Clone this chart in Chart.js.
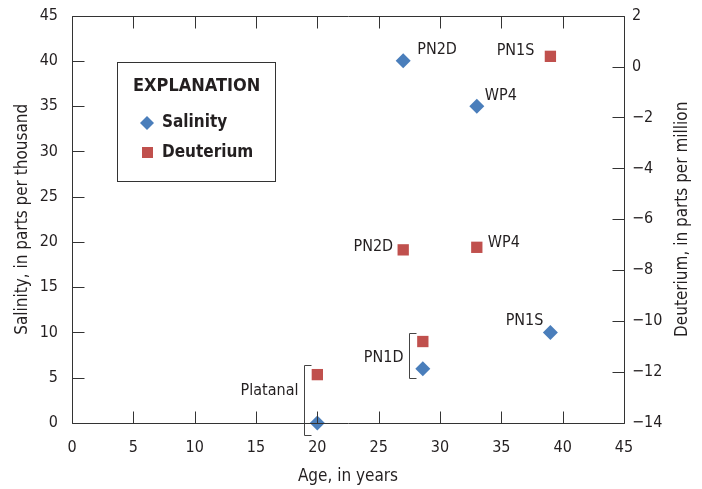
<!DOCTYPE html>
<html>
<head>
<meta charset="utf-8">
<script src="https://cdn.jsdelivr.net/npm/chart.js@4.4.1/dist/chart.umd.min.js"></script>
<style>
  html, body { margin: 0; padding: 0; background: #fff; }
  #wrap { width: 702px; height: 489px; }
</style>
</head>
<body>
<div id="wrap"><canvas id="chart"></canvas></div>
<script>
// values
const sites = ['Platanal', 'PN2D', 'PN1D', 'WP4', 'PN1S'];
const ages = [20, 27, 28.6, 33, 39];
const salinity = [0, 40, 6, 35, 10];
const deuterium = [-12.1, -7.2, -10.8, -7.1, 0.4];
const ageTicks = [0, 5, 10, 15, 20, 25, 30, 35, 40, 45];
const salinityTicks = [0, 5, 10, 15, 20, 25, 30, 35, 40, 45];
const deuteriumTicks = [-14, -12, -10, -8, -6, -4, -2, 0, 2];

const FONT = "'Liberation Sans Narrow', 'DejaVu Sans Condensed', sans-serif";
const INK = '#231f20';
const BLUE = '#4a7ebb';
const RED = '#c0504d';

// label placement next to points: [dx, dy, align]; null = labelled by bracket
const salLabels = [null, [14, -11, 'left'], null, [8, -10, 'left'], [-7, -12, 'right']];
const deuLabels = [null, [-10, -3, 'right'], null, [11, -4, 'left'], [-16, -5, 'right']];
// sites grouped with a bracket: index, label dy from salinity point, bracket top/bottom pad
const brackets = [
  { i: 0, dx: -13, labelDy: -32, padTop: 10, padBot: 12 },
  { i: 2, dx: -14, labelDy: -11, padTop: 9, padBot: 9 }
];

const frame = {
  id: 'frame',
  afterDraw(chart) {
    const { ctx, chartArea: a, scales: { x, y, y2 } } = chart;
    const L = 12;
    ctx.save();
    ctx.strokeStyle = '#333';
    ctx.lineWidth = 1;
    ctx.beginPath();
    const l = Math.round(a.left) + 0.5, r = Math.round(a.right) + 0.5;
    const t = Math.round(a.top) + 0.5, b = Math.round(a.bottom) + 0.5;
    ctx.rect(l, t, r - l, b - t);
    ageTicks.forEach(v => {
      const px = Math.round(x.getPixelForValue(v)) + 0.5;
      ctx.moveTo(px, b); ctx.lineTo(px, b - L);
      ctx.moveTo(px, t); ctx.lineTo(px, t + L);
    });
    salinityTicks.forEach(v => {
      const py = Math.round(y.getPixelForValue(v)) + 0.5;
      ctx.moveTo(l, py); ctx.lineTo(l + L, py);
    });
    deuteriumTicks.forEach(v => {
      const py = Math.round(y2.getPixelForValue(v)) + 0.5;
      ctx.moveTo(r, py); ctx.lineTo(r - L, py);
    });
    ctx.stroke();

    // right axis title reads bottom-to-top like the left one
    ctx.fillStyle = INK;
    ctx.font = '17px ' + FONT;
    ctx.textAlign = 'center';
    ctx.textBaseline = 'middle';
    ctx.translate(683, (a.top + a.bottom) / 2);
    ctx.rotate(-Math.PI / 2);
    ctx.fillText('Deuterium, in parts per million', 0, 0);
    ctx.restore();
  }
};

const notes = {
  id: 'notes',
  afterDatasetsDraw(chart) {
    const { ctx, scales: { x, y, y2 } } = chart;
    ctx.save();
    ctx.font = '16px ' + FONT;
    ctx.fillStyle = INK;
    ctx.textBaseline = 'middle';
    const put = (set, vals, scale) => set.forEach((o, i) => {
      if (!o) return;
      ctx.textAlign = o[2];
      ctx.fillText(sites[i], x.getPixelForValue(ages[i]) + o[0], scale.getPixelForValue(vals[i]) + o[1]);
    });
    put(salLabels, salinity, y);
    put(deuLabels, deuterium, y2);

    ctx.strokeStyle = '#444';
    ctx.lineWidth = 1;
    brackets.forEach(bk => {
      const px = Math.round(x.getPixelForValue(ages[bk.i]) + bk.dx) + 0.5;
      const ps = y.getPixelForValue(salinity[bk.i]);
      const pd = y2.getPixelForValue(deuterium[bk.i]);
      const top = Math.round(Math.min(ps, pd) - bk.padTop) + 0.5;
      const bot = Math.round(Math.max(ps, pd) + bk.padBot) + 0.5;
      ctx.beginPath();
      ctx.moveTo(px + 7, top); ctx.lineTo(px, top); ctx.lineTo(px, bot); ctx.lineTo(px + 7, bot);
      ctx.stroke();
      ctx.textAlign = 'right';
      ctx.fillText(sites[bk.i], px - 6, ps + bk.labelDy);
    });

    // explanation box
    const bx = 117.5, by = 62.5, bw = 158, bh = 119;
    ctx.strokeStyle = '#333';
    ctx.strokeRect(bx, by, bw, bh);
    ctx.textAlign = 'left';
    ctx.font = 'bold 18px ' + FONT;
    ctx.fillText('EXPLANATION', 133, 86);
    ctx.font = 'bold 17px ' + FONT;
    ctx.fillText('Salinity', 162, 123);
    ctx.fillText('Deuterium', 162, 153);
    ctx.fillStyle = BLUE;
    ctx.beginPath();
    ctx.moveTo(147, 116); ctx.lineTo(154, 123); ctx.lineTo(147, 130); ctx.lineTo(140, 123);
    ctx.closePath(); ctx.fill();
    ctx.fillStyle = RED;
    ctx.fillRect(142, 147, 11, 11);
    ctx.restore();
  }
};

const tickFont = { family: FONT, size: 16 };
const titleFont = { family: FONT, size: 17 };

new Chart(document.getElementById('chart'), {
  type: 'scatter',
  data: {
    datasets: [
      {
        label: 'Salinity',
        data: ages.map((a, i) => ({ x: a, y: salinity[i] })),
        yAxisID: 'y',
        pointStyle: 'rectRot',
        pointRadius: 7.5,
        pointHoverRadius: 7.5,
        backgroundColor: BLUE,
        borderWidth: 0,
        clip: false
      },
      {
        label: 'Deuterium',
        data: ages.map((a, i) => ({ x: a, y: deuterium[i] })),
        yAxisID: 'y2',
        pointStyle: 'rect',
        pointRadius: 8,
        pointHoverRadius: 8,
        backgroundColor: RED,
        borderWidth: 0,
        clip: false
      }
    ]
  },
  options: {
    responsive: true,
    maintainAspectRatio: false,
    animation: false,
    events: [],
    layout: { padding: { top: 6, left: 0, right: 0, bottom: 0 } },
    plugins: { legend: { display: false }, tooltip: { enabled: false } },
    scales: {
      x: {
        type: 'linear', min: 0, max: 45,
        afterFit: s => { s.height = 66; },
        afterBuildTicks: s => { s.ticks = ageTicks.map(v => ({ value: v })); },
        grid: { display: false }, border: { display: false },
        ticks: { color: INK, font: tickFont, padding: 7, maxRotation: 0 },
        title: { display: true, text: 'Age, in years', color: INK, font: titleFont, padding: { top: 0, bottom: 2 } }
      },
      y: {
        type: 'linear', position: 'left', min: 0, max: 45,
        afterFit: s => { s.width = 72; },
        afterBuildTicks: s => { s.ticks = salinityTicks.map(v => ({ value: v })); },
        grid: { display: false }, border: { display: false },
        ticks: { color: INK, font: tickFont, padding: 6 },
        title: { display: true, text: 'Salinity, in parts per thousand', color: INK, font: titleFont, padding: { top: 12, bottom: 0 } }
      },
      y2: {
        type: 'linear', position: 'right', min: -14, max: 2,
        afterFit: s => { s.width = 78; },
        afterBuildTicks: s => { s.ticks = deuteriumTicks.map(v => ({ value: v })); },
        grid: { display: false }, border: { display: false },
        ticks: { color: INK, font: tickFont, padding: 0, callback: v => String(v).replace('-', '\u2212') },
        title: { display: false }
      }
    }
  },
  plugins: [frame, notes]
});
</script>
</body>
</html>
